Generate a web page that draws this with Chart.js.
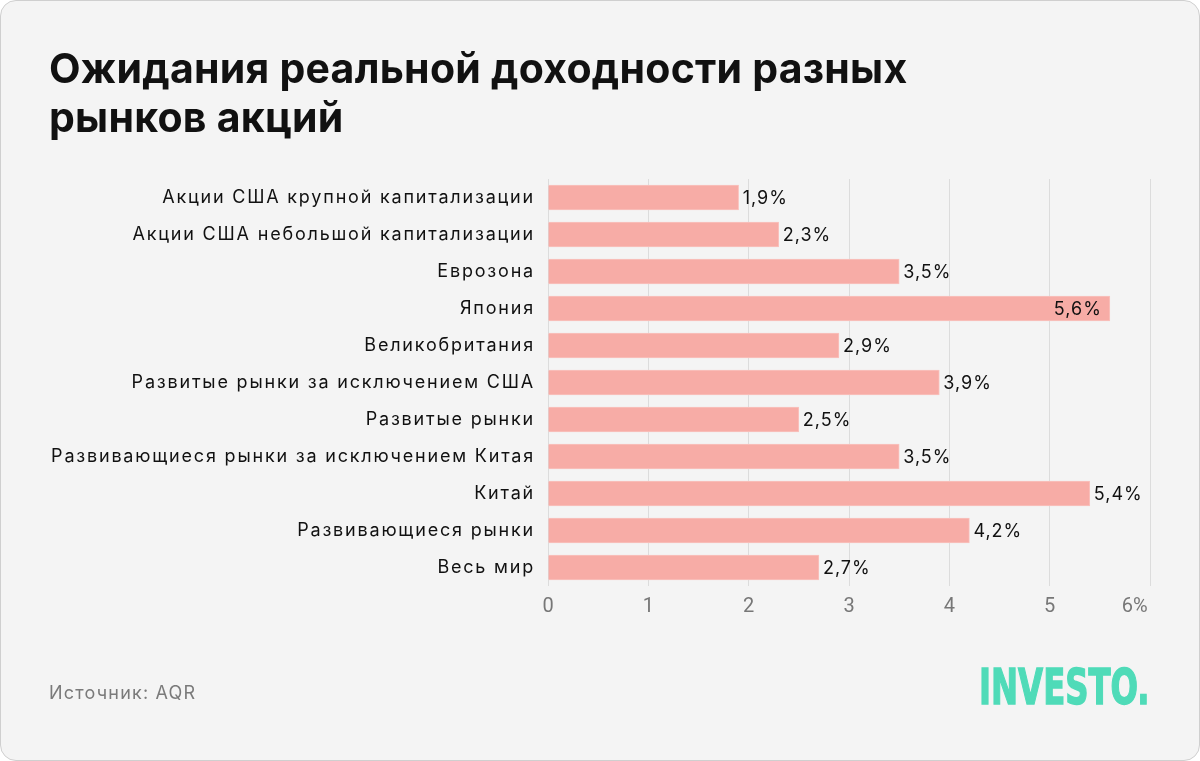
<!DOCTYPE html>
<html><head><meta charset="utf-8">
<script src="https://cdn.jsdelivr.net/npm/chart.js@4.4.1/dist/chart.umd.min.js"></script>
<style>
html,body{margin:0;padding:0;background:#fff;}
#card{position:absolute;left:0;top:0;width:1198px;height:759px;border:1px solid #cfcfcf;border-radius:16px;background:#f4f4f4;overflow:hidden;}
#title{position:absolute;left:48px;top:43px;font-family:Inter,"Noto Sans",sans-serif;font-weight:700;font-size:41px;line-height:49px;color:#111;letter-spacing:0.25px;white-space:nowrap;}
#source{position:absolute;left:48px;top:681px;font-family:Inter,"Noto Sans",sans-serif;font-size:18px;color:#7a7a7a;letter-spacing:1.2px;}
#logo{position:absolute;left:978px;top:661px;font-family:"DejaVu Sans",sans-serif;font-weight:700;font-size:49px;line-height:52px;color:#4fdbb8;-webkit-text-stroke:1.5px #4fdbb8;transform-origin:0 0;transform:scaleX(0.66);white-space:nowrap;}
canvas{position:absolute;left:0;top:0;}
</style></head>
<body>
<div id="card">
<canvas id="c" width="1200" height="761"></canvas>
<div id="title">Ожидания реальной доходности разных<br>рынков акций</div>
<div id="source">Источник: AQR</div>
<div id="logo">INVESTO.</div>
</div>
<script>
const categories = [
  "Акции США крупной капитализации",
  "Акции США небольшой капитализации",
  "Еврозона",
  "Япония",
  "Великобритания",
  "Развитые рынки за исключением США",
  "Развитые рынки",
  "Развивающиеся рынки за исключением Китая",
  "Китай",
  "Развивающиеся рынки",
  "Весь мир"
];
const returns = [1.9, 2.3, 3.5, 5.6, 2.9, 3.9, 2.5, 3.5, 5.4, 4.2, 2.7];
const xTicks = [0, 1, 2, 3, 4, 5, 6];

const fmt = v => v.toFixed(1).replace('.', ',') + '%';

const valueLabels = {
  id: 'valueLabels',
  beforeDatasetsDraw(chart) {
    chart.ctx.letterSpacing = '1.8px';
  },
  afterDatasetsDraw(chart) {
    const ctx = chart.ctx;
    const meta = chart.getDatasetMeta(0);
    ctx.save();
    ctx.letterSpacing = '1px';
    ctx.font = '18px Inter, "Noto Sans", sans-serif';
    ctx.fillStyle = '#111';
    ctx.textBaseline = 'middle';
    meta.data.forEach((bar, i) => {
      const t = fmt(returns[i]);
      const w = ctx.measureText(t).width;
      if (bar.x + 4 + w > chart.chartArea.right) {
        ctx.textAlign = 'right';
        ctx.fillText(t, bar.x - 8, bar.y + 1);
      } else {
        ctx.textAlign = 'left';
        ctx.fillText(t, bar.x + 4, bar.y + 1);
      }
    });
    ctx.restore();
  },
  afterDraw(chart) {
    chart.ctx.letterSpacing = '0px';
  }
};

new Chart(document.getElementById('c'), {
  type: 'bar',
  data: {
    labels: categories,
    datasets: [{
      data: returns,
      backgroundColor: '#f7aca6',
      borderColor: '#f9c3be',
      borderWidth: 1,
      barThickness: 25
    }]
  },
  options: {
    indexAxis: 'y',
    responsive: false,
    animation: false,
    layout: { padding: { left: 0, right: 51, top: 178, bottom: 0 } },
    plugins: { legend: { display: false }, tooltip: { enabled: false } },
    scales: {
      x: {
        min: 0, max: 6,
        afterBuildTicks(s) { s.ticks = xTicks.map(v => ({ value: v })); },
        afterFit(s) { s.height = 761 - 585; },
        grid: { color: '#dcdcdc', lineWidth: 1, drawTicks: false },
        border: { display: false },
        ticks: {
          padding: 9,
          color: '#777',
          font: { family: 'Roboto, sans-serif', size: 20 },
          callback: v => v === 6 ? '6%\u2002\u2002\u2002' : String(v)
        }
      },
      y: {
        afterFit(s) { s.width = 547; },
        grid: { display: false, drawTicks: false },
        border: { display: false },
        ticks: {
          z: 1,
          padding: 13,
          color: '#111',
          font: { family: 'Inter, "Noto Sans", sans-serif', size: 18 }
        }
      }
    }
  },
  plugins: [valueLabels]
});
</script>
</body></html>
